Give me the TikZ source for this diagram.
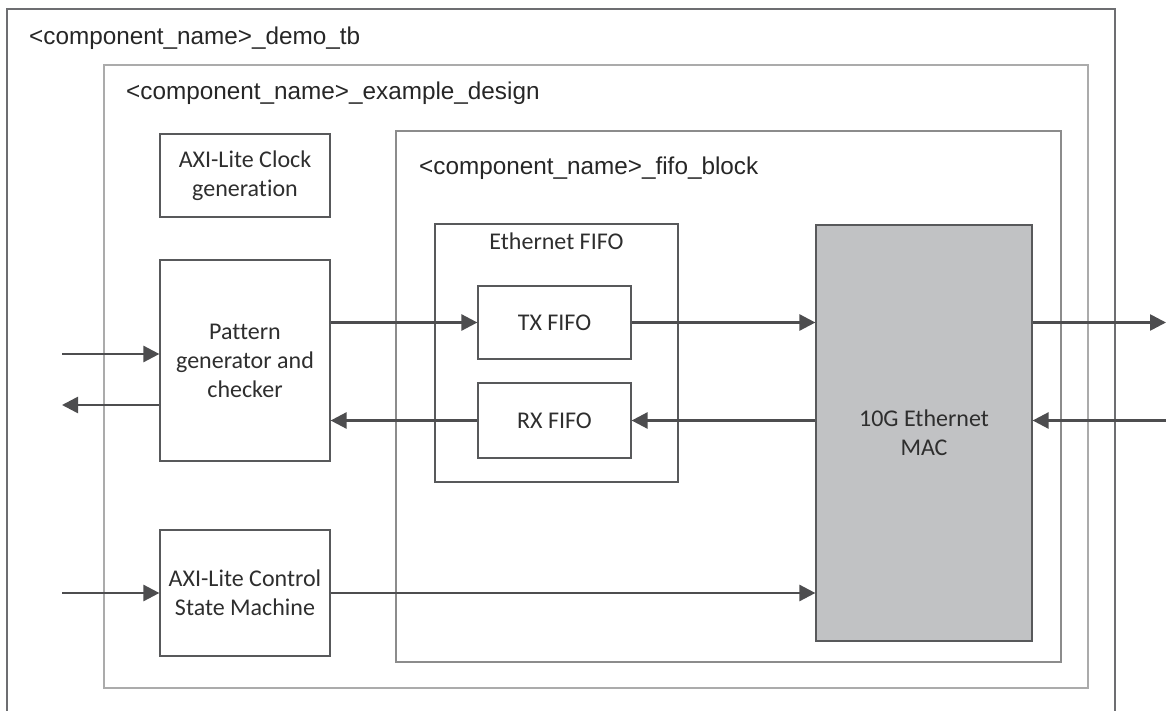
\documentclass[tikz,border=0pt]{standalone}
\usepackage{fontspec}
\usetikzlibrary{arrows.meta}
\newfontfamily\calfont[Ligatures=NoCommon]{Carlito}
\newfontfamily\arfont{Liberation Sans}
\definecolor{boxc}{HTML}{58595B}
\definecolor{arrc}{HTML}{4D4D4F}
\definecolor{txtc}{HTML}{2E2E2E}
\definecolor{ttlc}{HTML}{262626}
\definecolor{outerc}{HTML}{6D6E71}
\definecolor{fifoc}{HTML}{8C8C8C}
\definecolor{exc}{HTML}{ABABAB}
\definecolor{macfill}{HTML}{C1C2C4}
\begin{document}
\begin{tikzpicture}[x=1pt,y=-1pt,
  blk/.style={draw=boxc, line width=1.2pt, align=center, inner sep=0pt,
    font=\calfont\fontsize{24}{29}\selectfont, text=txtc},
  ttl/.style={anchor=base west, inner sep=0pt, text=ttlc,
    font=\arfont\fontsize{24.3}{29}\selectfont},
  lbl/.style={anchor=base, inner sep=0pt, text=txtc,
    font=\calfont\fontsize{24}{29}\selectfont},
  conn/.style={draw=arrc, line width=2.6pt,
    -{Triangle[length=16pt,width=16pt]}},
  frame/.style={line width=1.3pt}]
\useasboundingbox (0,0) rectangle (1166,711);
% outer demo_tb frame (open at bottom)
\draw[frame, draw=outerc] (7,711) -- (7,9) -- (1115,9) -- (1115,711);
\node[ttl] (tbt) at (29,45) {<component\_name>\_demo\_tb};
% example design
\draw[frame, draw=exc] (104,65) rectangle (1088,688);
\node[ttl] (ext) at (126,100) {<component\_name>\_example\_design};
% fifo block
\draw[frame, draw=fifoc] (396,131) rectangle (1061,662);
\node[ttl] (fbt) at (419,175) {<component\_name>\_fifo\_block};
% blocks
\node[blk, minimum width=170pt, minimum height=83pt] (clk) at (245,175.5) {AXI-Lite Clock\\generation};
\node[blk, minimum width=170pt, minimum height=201pt] (pg) at (245,360.5) {Pattern\\generator and\\checker};
\node[blk, minimum width=170pt, minimum height=126pt] (ctl) at (245,593) {AXI-Lite Control\\State Machine};
\node[blk, minimum width=243pt, minimum height=258pt] (ef) at (556.5,353) {};
\node[lbl] (eft) at (556.5,249) {Ethernet FIFO};
\node[blk, minimum width=153pt, minimum height=73pt] (tx) at (554.5,322.5) {TX FIFO};
\node[blk, minimum width=153pt, minimum height=75pt] (rx) at (554.5,420.5) {RX FIFO};
\node[blk, fill=macfill, minimum width=216pt, minimum height=416pt] (mac) at (924,433) {10G Ethernet\\MAC};
% external coordinates
\coordinate (inA) at (62,354);
\coordinate (outA) at (62,405);
\coordinate (inC) at (62,593);
\coordinate (outR) at (1166,322.5);
\coordinate (inR) at (1166,420.5);
% connectors
\draw[conn] (inA) -- (pg.west |- inA);
\draw[conn] (pg.west |- outA) -- (outA);
\draw[conn] (pg.east |- tx.west) -- (tx.west);
\draw[conn] (tx.east) -- (mac.west |- tx.east);
\draw[conn] (mac.west |- rx.east) -- (rx.east);
\draw[conn] (rx.west) -- (pg.east |- rx.west);
\draw[conn] (mac.east |- outR) -- (outR);
\draw[conn] (inR) -- (mac.east |- inR);
\draw[conn] (inC) -- (ctl.west);
\draw[conn] (ctl.east) -- (mac.west |- ctl.east);
\end{tikzpicture}
\end{document}
